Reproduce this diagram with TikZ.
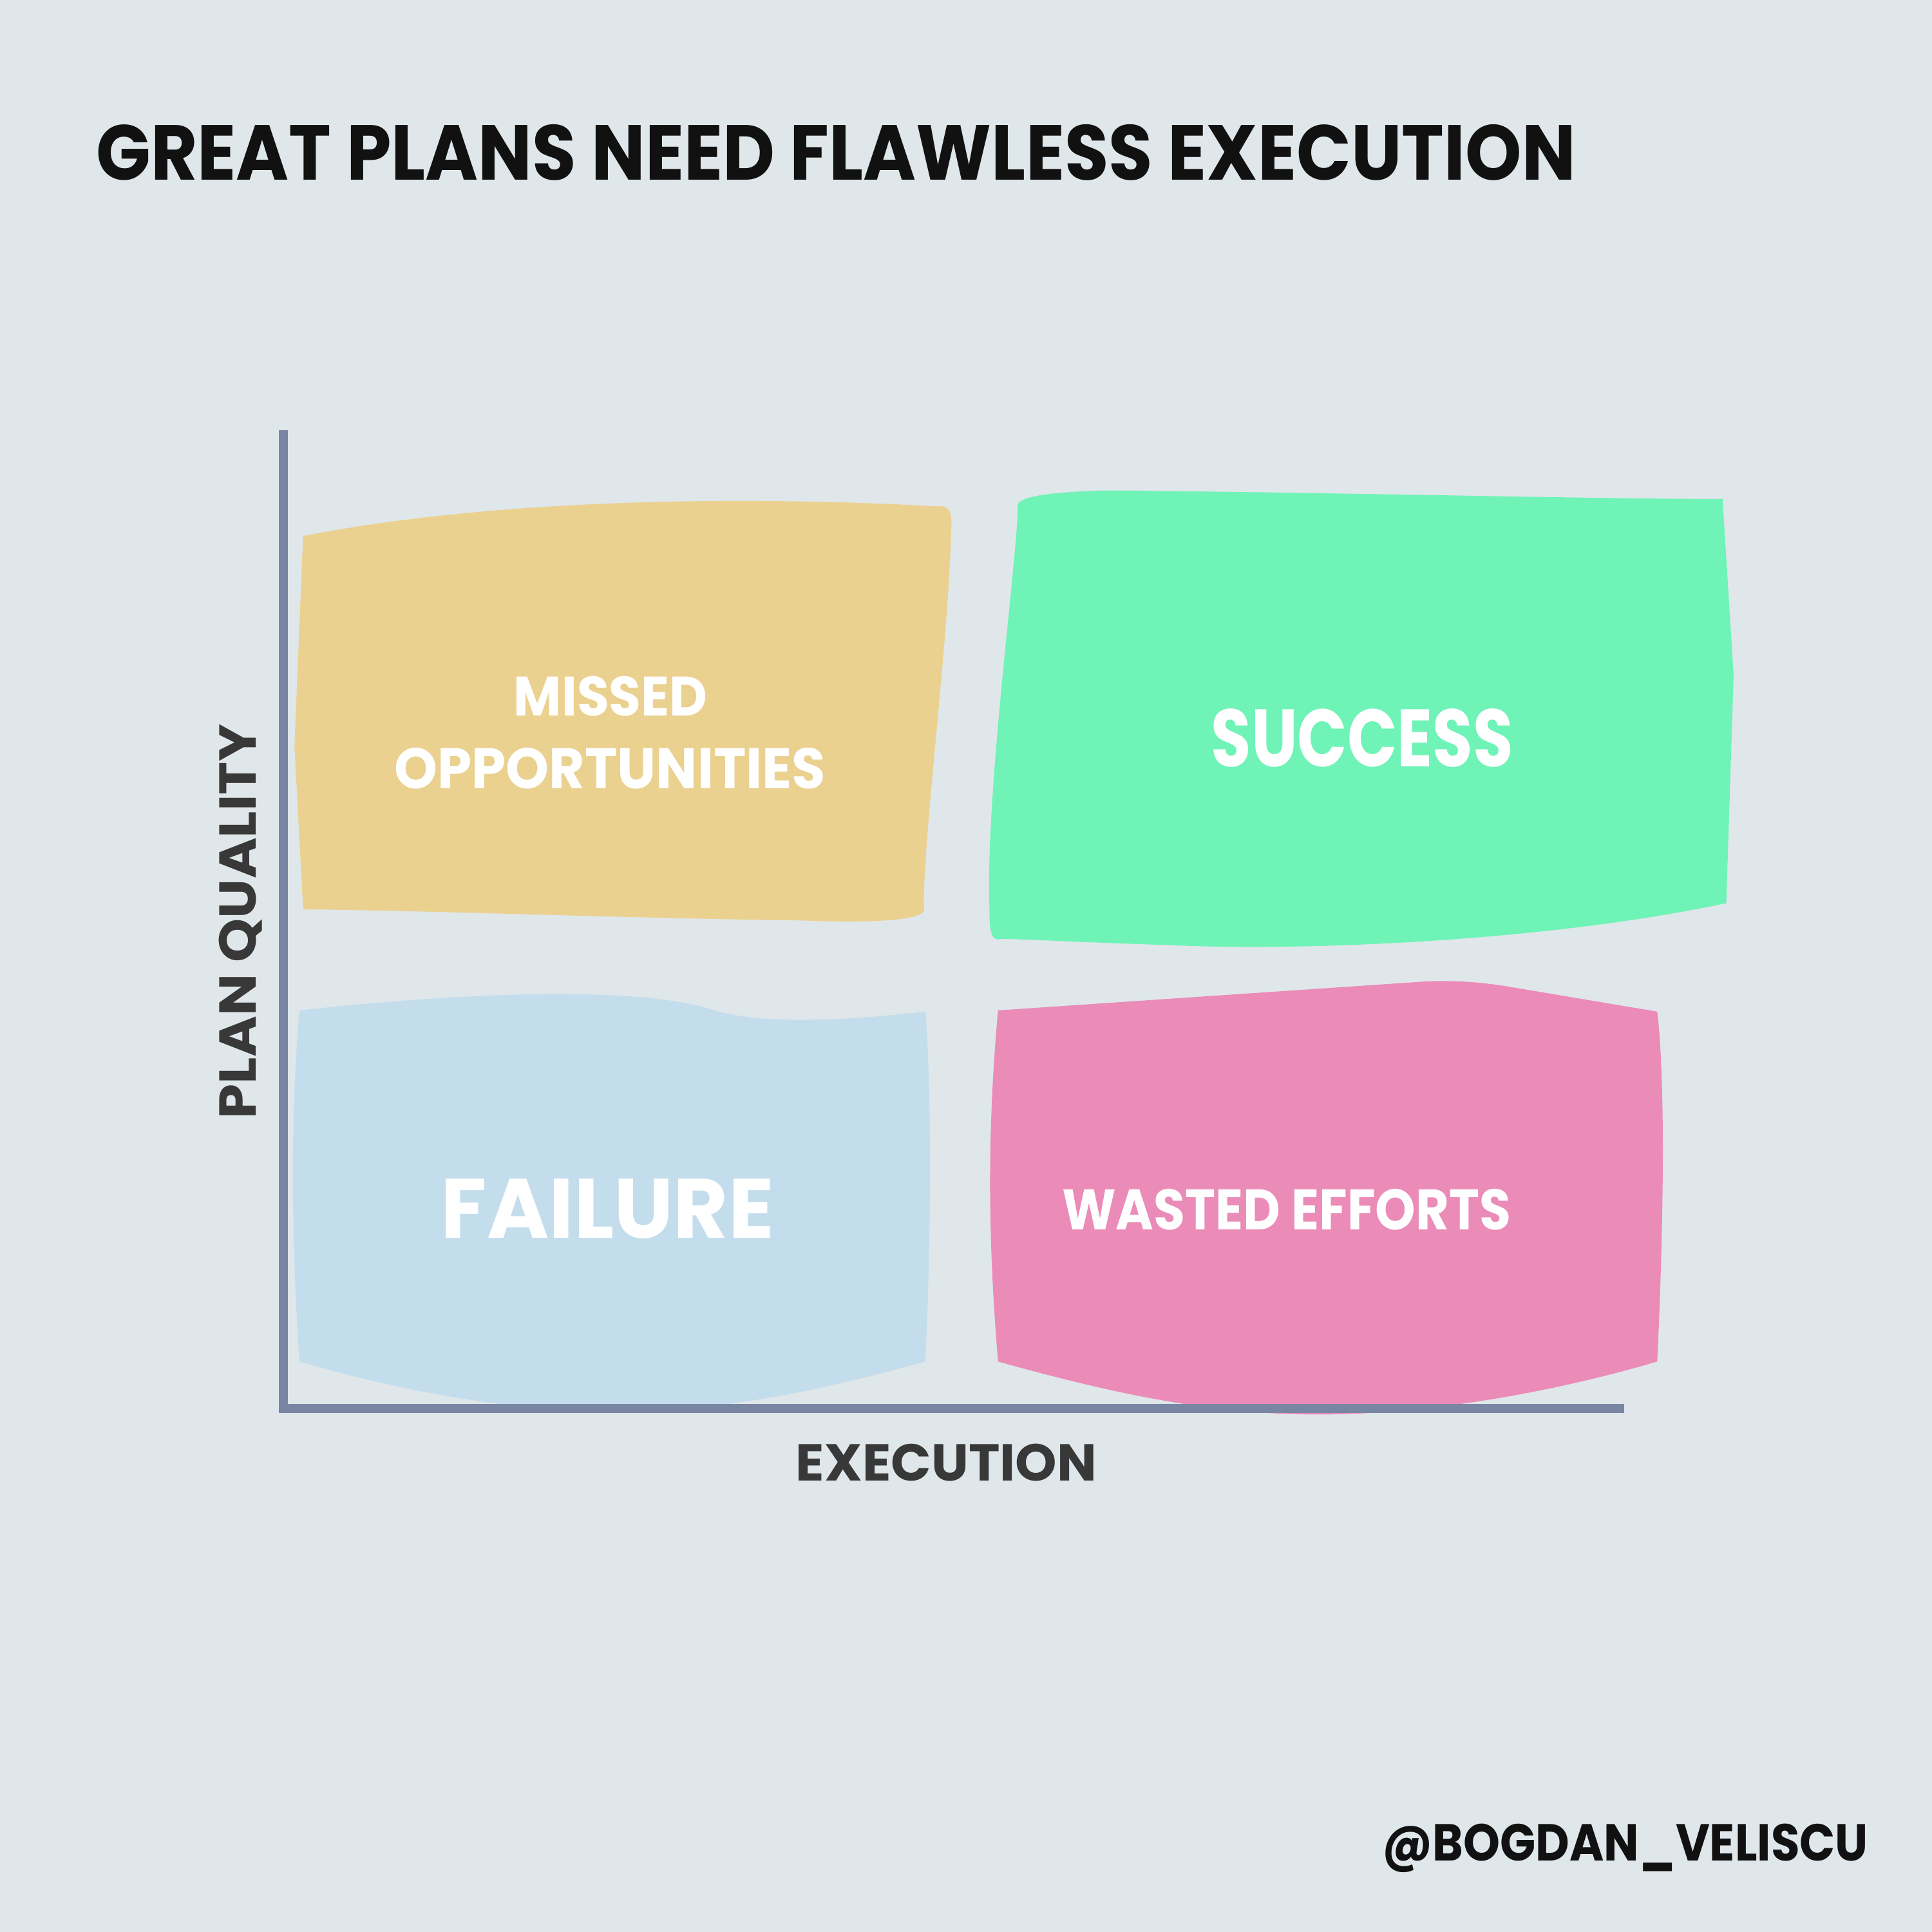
\documentclass[tikz,border=0pt]{standalone}
\usepackage{fontspec}
\setmainfont{Poppins}
\usepackage{graphicx}
\definecolor{bg}{HTML}{DFE7EA}
\definecolor{axisc}{HTML}{7886A4}
\definecolor{yel}{HTML}{EBD190}
\definecolor{grn}{HTML}{6FF3B7}
\definecolor{blu}{HTML}{C4DDEC}
\definecolor{pnk}{HTML}{EB8BB8}
\definecolor{ink}{HTML}{111111}
\definecolor{lab}{HTML}{383838}
\newcommand{\fitt}[3]{\resizebox{#1}{#2}{\bfseries #3}}
\tikzset{
  lbl/.style={inner sep=0pt, outer sep=0pt, anchor=base west},
  quad/.style={draw=none},
  axisline/.style={draw=axisc, line width=0.07cm}
}
\begin{document}
\begin{tikzpicture}[x=0.01cm, y=-0.01cm]
\fill[bg] (0,0) rectangle (1568,1568);
\useasboundingbox (0,0) rectangle (1568,1568);

% title
\node[lbl, text=ink] (title) at (78,146) {\fitt{12cm}{0.45cm}{GREAT PLANS NEED FLAWLESS EXECUTION}};

% missed opportunities (yellow)
\fill[yel] (246,435) .. controls (400,405) and (600,402) .. (762,411)
  .. controls (770,410) and (773,415) .. (772,430)
  .. controls (770,520) and (748,690) .. (750,738)
  .. controls (750,748) and (700,749) .. (650,747)
  .. controls (500,745) and (350,739) .. (246,738)
  -- (239,605) -- cycle;

% success (green)
\fill[grn] (826,412) .. controls (822,402) and (860,399) .. (900,398)
  .. controls (1100,400) and (1300,405) .. (1398,405)
  -- (1407,548) -- (1401,733)
  .. controls (1250,765) and (1050,772) .. (950,767)
  .. controls (880,765) and (830,762) .. (812,762)
  .. controls (803,765) and (803,750) .. (803,735)
  .. controls (800,640) and (826,450) .. cycle;

% failure (blue)
\fill[blu] (243,820) .. controls (380,805) and (520,800) .. (580,820)
  .. controls (620,832) and (690,828) .. (751,821)
  .. controls (756,880) and (756,1000) .. (751,1105)
  .. controls (650,1133) and (580,1145) .. (500,1145)
  .. controls (420,1145) and (340,1133) .. (243,1105)
  .. controls (236,1000) and (236,900) .. cycle;

% wasted efforts (pink)
\fill[pnk] (810,820) -- (1150,797)
  .. controls (1175,795) and (1200,797) .. (1220,800)
  -- (1345,821)
  .. controls (1352,880) and (1350,1000) .. (1345,1105)
  .. controls (1250,1133) and (1150,1148) .. (1070,1148)
  .. controls (980,1148) and (900,1130) .. (810,1105)
  .. controls (803,1020) and (800,930) .. cycle;

% axes
\coordinate (ytop) at (230,349);
\coordinate (origin) at (230,1143);
\coordinate (xend) at (1318,1143);
\draw[axisline] (ytop) -- ([yshift=-0.035cm]origin.center) ;
\draw[axisline] ([xshift=-0.035cm]origin) -- (xend);

% quadrant labels
\node[lbl, text=white] (missed) at (417,581) {\fitt{1.57cm}{0.32cm}{MISSED}};
\node[lbl, text=white] (opp) at (320,640) {\fitt{3.5cm}{0.33cm}{OPPORTUNITIES}};
\node[lbl, text=white] (success) at (983,622) {\fitt{2.45cm}{0.47cm}{SUCCESS}};
\node[lbl, text=white] (failure) at (358,1005) {\fitt{2.7cm}{0.48cm}{FAILURE}};
\node[lbl, text=white] (wasted) at (862,998) {\fitt{3.64cm}{0.33cm}{WASTED EFFORTS}};

% axis labels
\node[lbl, text=lab] (xlabel) at (646,1202) {\fitt{2.44cm}{0.30cm}{EXECUTION}};
\node[lbl, text=lab, rotate=90] (ylabel) at (208,908) {\fitt{3.2cm}{0.30cm}{PLAN QUALITY}};

% signature
\node[lbl, text=ink] (sig) at (1122,1510) {\fitt{3.94cm}{0.30cm}{@BOGDAN\_VELISCU}};
\end{tikzpicture}
\end{document}
